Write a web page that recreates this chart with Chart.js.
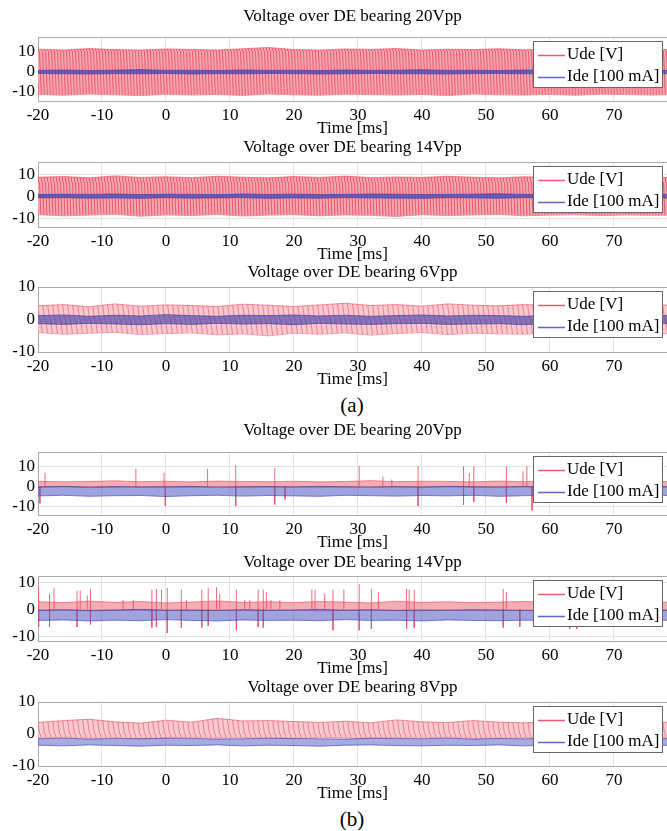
<!DOCTYPE html>
<html>
<head>
<meta charset="utf-8">
<script src="https://cdn.jsdelivr.net/npm/chart.js@4.4.0/dist/chart.umd.min.js"></script>
<style>
    body { margin: 0; background: #fff; width: 667px; height: 831px; position: relative; overflow: hidden; }
    canvas { position: absolute; left: 0; }
    .cap { position: absolute; left: 302px; width: 100px; text-align: center; font: 21px "Liberation Serif", serif; }
</style>
</head>
<body>
<canvas id="c0"></canvas>
<canvas id="c1"></canvas>
<canvas id="c2"></canvas>
<div class="cap" style="top:393px">(a)</div>
<canvas id="c3"></canvas>
<canvas id="c4"></canvas>
<canvas id="c5"></canvas>
<div class="cap" style="top:807px">(b)</div>
<script>
// ================================================
// DATA (envelopes every 4 ms)
// ================================================

const time = [-20, -16, -12, -8, -4, 0, 4, 8, 12, 16, 20, 24, 28, 32, 36, 40, 44, 48, 52, 56, 60, 64, 68, 72, 76, 80];
const xTicks = [-20, -10, 0, 10, 20, 30, 40, 50, 60, 70];
const yTicks = [-10, 0, 10];
const legendNames = ['Ude [V]', 'Ide [100 mA]'];
const titles = [
    'Voltage over DE bearing 20Vpp',
    'Voltage over DE bearing 14Vpp',
    'Voltage over DE bearing 6Vpp',
    'Voltage over DE bearing 20Vpp',
    'Voltage over DE bearing 14Vpp',
    'Voltage over DE bearing 8Vpp'
];

// (a) 20Vpp
const ude1Hi = [11.4, 11.0, 11.7, 11.2, 11.0, 11.5, 11.3, 11.0, 11.6, 12.3, 11.2, 11.0, 11.5, 11.3, 11.7, 11.0, 11.4, 11.2, 11.6, 11.1, 11.5, 11.3, 11.0, 11.4, 11.2, 11.3];
const ude1Lo = [-11.2, -11.6, -11.0, -11.4, -11.8, -11.1, -11.5, -11.2, -11.7, -11.0, -11.4, -11.6, -11.1, -11.3, -11.5, -11.2, -11.8, -11.0, -11.4, -11.5, -11.2, -11.6, -11.1, -11.3, -11.5, -11.2];
const ide1Hi = [0.8, 1.0, 0.7, 0.9, 1.2, 0.8, 0.9, 0.7, 1.0, 0.8, 0.9, 0.7, 1.0, 0.8, 0.9, 1.1, 0.8, 0.9, 0.7, 1.0, 0.8, 0.9, 0.8, 1.0, 0.7, 0.9];
const ide1Lo = [-0.7, -0.9, -1.0, -0.8, -0.9, -0.7, -1.0, -0.8, -0.9, -0.7, -0.8, -1.0, -0.9, -0.7, -0.8, -0.9, -1.0, -0.8, -0.7, -0.9, -0.8, -1.0, -0.7, -0.9, -0.8, -0.9];

// (a) 14Vpp
const ude2Hi = [8.6, 8.9, 8.3, 9.2, 8.5, 8.8, 8.4, 9.0, 8.6, 8.3, 8.9, 8.5, 9.1, 8.4, 8.7, 8.5, 9.0, 8.6, 8.3, 8.8, 8.5, 8.9, 8.4, 8.7, 8.6, 8.5];
const ude2Lo = [-8.4, -8.9, -8.6, -8.2, -9.1, -8.5, -8.8, -8.3, -9.0, -8.6, -8.4, -8.9, -8.5, -8.7, -9.2, -8.4, -8.8, -8.5, -8.3, -8.9, -8.6, -8.4, -8.8, -8.5, -8.7, -8.6];
const ide2Hi = [0.7, 0.9, 0.8, 1.0, 0.7, 0.9, 0.8, 0.7, 1.0, 0.8, 0.9, 0.7, 0.8, 1.0, 0.9, 0.7, 0.8, 0.9, 1.1, 0.8, 0.7, 0.9, 0.8, 1.0, 0.8, 0.9];
const ide2Lo = [-0.8, -0.7, -0.9, -0.8, -1.0, -0.7, -0.9, -0.8, -0.7, -1.0, -0.8, -0.9, -0.7, -0.8, -0.9, -1.0, -0.7, -0.8, -0.9, -0.7, -0.8, -1.0, -0.9, -0.7, -0.8, -0.9];

// (a) 6Vpp
const ude3Hi = [4.2, 4.6, 3.9, 4.8, 4.1, 4.5, 4.3, 4.0, 4.7, 4.4, 4.0, 4.5, 5.0, 4.3, 4.6, 4.1, 4.8, 4.4, 4.2, 4.6, 4.3, 4.5, 4.1, 4.4, 4.6, 4.3];
const ude3Lo = [-4.0, -4.5, -4.2, -3.9, -4.6, -4.3, -4.1, -4.7, -4.4, -5.0, -4.2, -4.5, -4.1, -4.8, -4.3, -4.0, -4.6, -4.2, -4.4, -4.5, -4.1, -4.3, -4.6, -4.2, -4.4, -4.3];
const ide3Hi = [1.2, 1.4, 1.0, 1.3, 1.1, 1.5, 1.2, 1.0, 1.3, 1.2, 1.4, 1.1, 1.3, 1.0, 1.2, 1.4, 1.1, 1.3, 1.2, 1.0, 1.3, 1.2, 1.4, 1.1, 1.2, 1.3];
const ide3Lo = [-1.3, -1.5, -1.2, -1.4, -1.6, -1.3, -1.5, -1.2, -1.4, -1.3, -1.6, -1.2, -1.4, -1.5, -1.3, -1.2, -1.5, -1.4, -1.3, -1.6, -1.2, -1.4, -1.3, -1.5, -1.2, -1.4];

// (b) 20Vpp
const ude4Hi = [2.6, 2.3, 2.5, 2.8, 2.4, 2.6, 2.3, 2.7, 2.5, 2.4, 2.6, 2.3, 2.5, 2.9, 2.4, 2.6, 2.5, 2.3, 2.7, 2.4, 2.6, 2.5, 2.3, 2.6, 2.4, 2.5];
const ude4Lo = [-0.3, -0.2, -0.4, -0.3, -0.2, -0.3, -0.4, -0.2, -0.3, -0.3, -0.2, -0.4, -0.3, -0.2, -0.3, -0.4, -0.2, -0.3, -0.3, -0.2, -0.4, -0.3, -0.2, -0.3, -0.4, -0.3];
const ide4Hi = [-0.2, 0.1, -0.3, 0.0, -0.2, -0.1, 0.1, -0.3, -0.1, 0.0, -0.2, 0.1, -0.1, -0.3, 0.0, -0.2, 0.1, -0.1, -0.2, 0.0, -0.3, -0.1, 0.1, -0.2, 0.0, -0.1];
const ide4Lo = [-4.6, -4.3, -4.8, -4.5, -4.4, -4.9, -4.5, -4.3, -4.7, -4.4, -4.6, -4.8, -4.3, -4.5, -4.7, -4.4, -4.6, -4.3, -4.8, -4.5, -4.4, -4.7, -4.5, -4.6, -4.3, -4.5];
const spike4T = [-19.7, -18.9, -4.7, -0.3, -0.1, 6.5, 10.9, 10.9, 17.0, 17.0, 18.6, 30.2, 33.9, 35.3, 39.4, 39.4, 46.5, 46.5, 47.4, 48.1, 48.1, 53.2, 53.2, 55.8, 56.4, 57.2, 58.8, 72.8, 75.1];
const spike4V = [-8.3, 6.8, 8.8, 6.8, -9.6, 8.8, 10.6, -9.6, 9.1, -8.9, -6.3, 10.2, 4.9, 3.5, 10.2, -9.6, 10.0, -9.0, 6.6, 10.0, -7.6, 10.0, -8.0, 7.5, 10.0, -11.7, -8.0, -8.0, -8.0];

// (b) 14Vpp
const ude5Hi = [2.8, 2.5, 3.0, 2.6, 2.9, 2.4, 2.7, 3.1, 2.6, 2.8, 2.5, 2.9, 2.7, 2.4, 3.0, 2.6, 2.8, 2.5, 2.7, 2.9, 2.6, 2.8, 2.5, 2.7, 2.6, 2.8];
const ude5Lo = [-0.4, -0.3, -0.5, -0.4, -0.3, -0.4, -0.5, -0.3, -0.4, -0.4, -0.3, -0.5, -0.4, -0.3, -0.4, -0.5, -0.3, -0.4, -0.4, -0.3, -0.5, -0.4, -0.3, -0.4, -0.5, -0.4];
const ide5Hi = [-0.3, -0.1, -0.4, -0.2, 0.0, -0.3, -0.2, -0.4, -0.1, -0.3, -0.2, 0.0, -0.3, -0.1, -0.4, -0.2, -0.3, -0.1, -0.2, -0.4, -0.3, -0.1, -0.2, -0.3, -0.2, -0.3];
const ide5Lo = [-4.0, -3.8, -4.2, -3.9, -4.1, -3.7, -4.0, -4.2, -3.8, -4.0, -3.9, -4.1, -3.7, -4.0, -3.9, -4.2, -3.8, -4.0, -4.1, -3.9, -4.0, -3.8, -4.1, -3.9, -4.0, -3.9];
const spike5T = [-19.9, -19.9, -18.2, -18.2, -17.5, -13.9, -13.9, -13.4, -12.3, -11.8, -11.8, -6.7, -5.1, -2.2, -2.2, -1.5, -1.5, -0.7, 0.2, 0.2, 2.4, 2.4, 3.2, 5.6, 5.6, 6.6, 6.6, 7.9, 8.4, 11.0, 11.0, 12.3, 13.1, 14.4, 14.4, 15.2, 15.2, 15.7, 16.4, 17.8, 22.8, 23.3, 24.8, 26.1, 26.1, 27.8, 30.2, 30.2, 32.1, 32.1, 33.2, 37.6, 37.6, 38.0, 38.8, 38.8, 52.7, 52.7, 53.2, 55.3, 63.1, 64.2];
const spike5V = [8.4, -6.4, 5.8, -6.4, 7.9, 6.9, -6.4, 6.9, 5.1, 7.5, -5.5, 3.5, 3.5, 7.2, -6.6, 7.5, -6.4, 7.2, 7.9, -8.6, 7.2, -6.6, 3.5, 7.2, -6.6, 7.9, -6.0, 8.1, 5.7, 7.2, -7.6, 3.5, 3.5, 7.2, -6.4, 7.2, -6.6, 6.3, 3.5, 3.5, 7.2, 7.2, 5.7, 7.2, -7.6, 7.2, 9.3, -7.6, 7.5, -7.0, 6.3, 7.5, -7.0, 7.2, 7.2, -6.6, 7.5, -6.6, 6.3, -6.4, -7.0, -7.0];

// (b) 8Vpp
const ude6Hi = [3.6, 4.2, 4.6, 3.8, 3.4, 4.3, 3.7, 4.9, 4.1, 4.2, 3.9, 3.6, 4.0, 3.5, 4.4, 3.8, 3.6, 4.2, 3.7, 3.5, 3.9, 3.6, 4.0, 3.7, 3.8, 3.6];
const ude6Lo = [-1.2, -1.0, -1.3, -1.1, -1.4, -1.2, -1.0, -1.3, -1.1, -1.2, -1.4, -1.0, -1.2, -1.3, -1.1, -1.2, -1.0, -1.3, -1.2, -1.1, -1.4, -1.2, -1.0, -1.2, -1.3, -1.1];
const ide6Hi = [-1.5, -1.3, -1.6, -1.4, -1.5, -1.3, -1.4, -1.6, -1.5, -1.3, -1.4, -1.5, -1.6, -1.3, -1.4, -1.5, -1.3, -1.6, -1.4, -1.5, -1.3, -1.4, -1.5, -1.6, -1.4, -1.5];
const ide6Lo = [-3.5, -3.7, -3.4, -3.6, -3.8, -3.5, -3.6, -3.4, -3.7, -3.5, -3.6, -3.8, -3.5, -3.4, -3.6, -3.7, -3.5, -3.6, -3.4, -3.7, -3.5, -3.6, -3.8, -3.5, -3.6, -3.5];

// axis ranges per panel
const yMin = [-14.5, -14, -10, -14, -11.5, -10];
const yMax = [17.5, 15.5, 10, 17, 12.2, 10];

// ================================================
// LAYOUT + STYLE
// ================================================

const FONT = '"Liberation Serif", "Times New Roman", serif';
const X_MAX = 78.3;
const panelPos = [
    { titleY: 17,  top: 37,  bottom: 101 },
    { titleY: 148, top: 162, bottom: 227 },
    { titleY: 273, top: 287, bottom: 352 },
    { titleY: 431, top: 452, bottom: 515 },
    { titleY: 563, top: 576, bottom: 641 },
    { titleY: 688, top: 702, bottom: 766 }
];

// near-vertical hatch standing in for the dense oscillation texture inside a band
function hatch(base, line, w, h, lw) {
    const c = document.createElement('canvas');
    c.width = w;
    c.height = h;
    const g = c.getContext('2d');
    g.fillStyle = base;
    g.fillRect(0, 0, w, h);
    g.strokeStyle = line;
    g.lineWidth = lw;
    g.beginPath();
    g.moveTo(0.5, 0);
    g.lineTo(w - 0.5, h);
    g.stroke();
    return g.createPattern(c, 'repeat');
}

const denseRed = hatch('rgba(246,168,178,1)', 'rgba(230,55,75,0.8)', 3, 48, 0.9);
const sparseRed = hatch('rgba(248,188,196,0.8)', 'rgba(232,60,80,0.65)', 5, 30, 0.8);
const udeFill = [denseRed, denseRed, sparseRed, 'rgba(238,90,105,0.5)', 'rgba(238,90,105,0.5)', sparseRed];
const ideFill = ['rgba(60,70,190,0.75)', 'rgba(60,70,190,0.75)', 'rgba(60,60,170,0.6)',
                 'rgba(80,88,195,0.55)', 'rgba(80,88,195,0.55)', 'rgba(80,88,195,0.5)'];
const RED_LINE = 'rgba(232,60,80,0.7)';
const BLUE_LINE = 'rgba(50,60,170,0.8)';

// title above each plot
const panelTitle = {
    id: 'panelTitle',
    afterDraw(chart, args, opts) {
        const { ctx, chartArea } = chart;
        ctx.save();
        ctx.font = '17px ' + FONT;
        ctx.fillStyle = '#000';
        ctx.textAlign = 'center';
        ctx.textBaseline = 'middle';
        ctx.fillText(opts.text, (chartArea.left + chartArea.right) / 2, opts.y);
        ctx.restore();
    }
};

// top edge of the axes box
const frameTop = {
    id: 'frameTop',
    afterDatasetsDraw(chart) {
        const { ctx, chartArea } = chart;
        ctx.save();
        ctx.fillStyle = '#aaaaaa';
        ctx.fillRect(chartArea.left, Math.round(chartArea.top), chartArea.right - chartArea.left, 1);
        ctx.restore();
    }
};

// MATLAB style boxed legend in the top right corner
const boxLegend = {
    id: 'boxLegend',
    afterDraw(chart) {
        const { ctx, chartArea } = chart;
        const x = Math.round(chartArea.right - 134), y = Math.round(chartArea.top + 4), w = 129, h = 46;
        const colors = ['#ee5a6e', '#5a66c8'];
        ctx.save();
        ctx.fillStyle = '#fff';
        ctx.fillRect(x, y, w, h);
        ctx.strokeStyle = '#666';
        ctx.lineWidth = 1;
        ctx.strokeRect(x + 0.5, y + 0.5, w, h);
        ctx.font = '17px ' + FONT;
        ctx.textBaseline = 'middle';
        legendNames.forEach((name, i) => {
            const cy = y + 14 + i * 22;
            ctx.fillStyle = colors[i];
            ctx.fillRect(x + 5, cy - 0.25, 27, 1.5);
            ctx.fillStyle = '#000';
            ctx.fillText(name, x + 34, cy);
        });
        ctx.restore();
    }
};

function band(hi, lo, line, fillColor, order) {
    return [
        {
            data: time.map((t, i) => ({ x: t, y: hi[i] })),
            borderColor: line, borderWidth: 0.8, backgroundColor: fillColor,
            fill: '+1', pointRadius: 0, order: order
        },
        {
            data: time.map((t, i) => ({ x: t, y: lo[i] })),
            borderColor: line, borderWidth: 0.8,
            fill: false, pointRadius: 0, order: order
        }
    ];
}

function spikes(ts, vs) {
    const pts = [];
    ts.forEach((t, i) => {
        pts.push({ x: t, y: 0 }, { x: t, y: vs[i] }, { x: t, y: null });
    });
    return { data: pts, borderColor: 'rgba(236,80,98,0.85)', borderWidth: 1, pointRadius: 0, fill: false, spanGaps: false, order: 1 };
}

const udeHi = [ude1Hi, ude2Hi, ude3Hi, ude4Hi, ude5Hi, ude6Hi];
const udeLo = [ude1Lo, ude2Lo, ude3Lo, ude4Lo, ude5Lo, ude6Lo];
const ideHi = [ide1Hi, ide2Hi, ide3Hi, ide4Hi, ide5Hi, ide6Hi];
const ideLo = [ide1Lo, ide2Lo, ide3Lo, ide4Lo, ide5Lo, ide6Lo];
const spikeSets = { 3: [spike4T, spike4V], 4: [spike5T, spike5V] };

function makePanel(i) {
    const pos = panelPos[i];
    const canvasTop = pos.titleY - 14;
    const canvasH = pos.bottom + 38 - canvasTop;
    const el = document.getElementById('c' + i);
    el.width = 667;
    el.height = canvasH;
    el.style.top = canvasTop + 'px';

    const datasets = [
        ...band(udeHi[i], udeLo[i], RED_LINE, udeFill[i], 2),
        ...band(ideHi[i], ideLo[i], BLUE_LINE, ideFill[i], 0)
    ];
    if (spikeSets[i]) datasets.push(spikes(spikeSets[i][0], spikeSets[i][1]));

    new Chart(el, {
        type: 'line',
        data: { datasets },
        options: {
            responsive: false,
            animation: false,
            layout: { padding: { top: pos.top - canvasTop, left: 0, right: 0, bottom: 0 } },
            plugins: {
                legend: { display: false },
                tooltip: { enabled: false },
                panelTitle: { text: titles[i], y: pos.titleY - canvasTop }
            },
            scales: {
                x: {
                    type: 'linear',
                    min: -20,
                    max: X_MAX,
                    afterFit: s => { s.height = 38; },
                    afterBuildTicks: s => { s.ticks = xTicks.map(v => ({ value: v })); },
                    grid: { color: '#e4e4e4', drawTicks: false },
                    border: { color: '#aaaaaa' },
                    ticks: { autoSkip: false, maxRotation: 0, padding: 4, color: '#000', font: { size: 17, family: FONT } },
                    title: { display: true, text: 'Time [ms]', color: '#000', padding: 0, font: { size: 17, family: FONT } }
                },
                y: {
                    min: yMin[i],
                    max: yMax[i],
                    afterFit: s => { s.width = 38; },
                    afterBuildTicks: s => { s.ticks = yTicks.map(v => ({ value: v })); },
                    grid: { color: '#e4e4e4', drawTicks: false },
                    border: { color: '#aaaaaa' },
                    ticks: { padding: 3, color: '#000', font: { size: 17, family: FONT } }
                }
            }
        },
        plugins: [frameTop, panelTitle, boxLegend]
    });
}

for (let i = 0; i < 6; i++) makePanel(i);
</script>
</body>
</html>
